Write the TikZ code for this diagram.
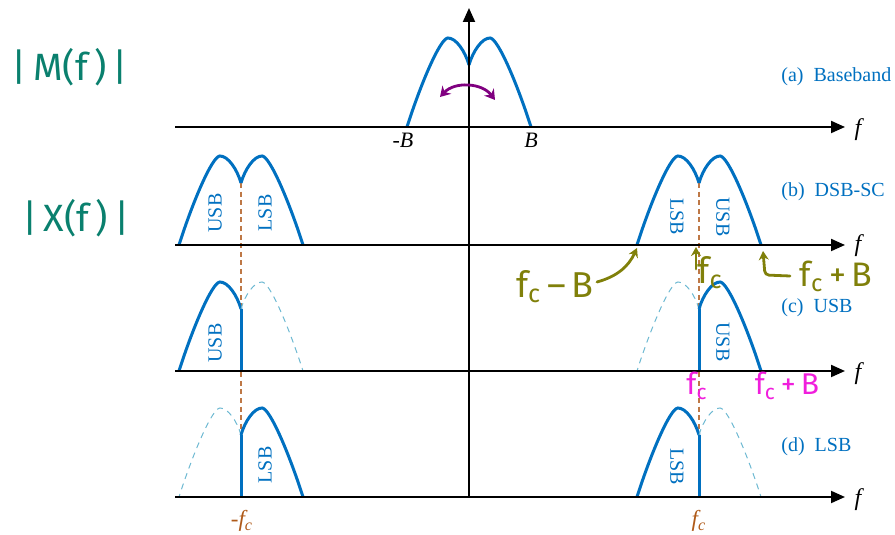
\documentclass[tikz,border=0pt]{standalone}
\usepackage{fontspec}
\setmainfont{Liberation Serif}
\newfontfamily\handfont{Fira Sans}
\usepackage{tikz}
\usetikzlibrary{arrows.meta}
\definecolor{sigblue}{RGB}{0,112,192}
\definecolor{ghostblue}{RGB}{110,185,210}
\definecolor{guidebrown}{RGB}{190,120,70}
\definecolor{fcbrown}{RGB}{175,90,25}
\definecolor{penteal}{RGB}{10,128,110}
\definecolor{penolive}{RGB}{128,128,10}
\definecolor{penpink}{RGB}{240,30,220}
\definecolor{penpurple}{RGB}{128,0,128}

\begin{document}
\begin{tikzpicture}[
			x=0.5pt, y=0.5pt,
			every node/.style={inner sep=0pt},
			axis/.style={line width=1pt, -{Triangle[length=7pt,width=6pt]}},
			band/.style={draw=sigblue, line width=1.5pt},
			ghost/.style={draw=ghostblue, line width=0.5pt, dash pattern=on 3pt off 2.5pt},
			guide/.style={draw=guidebrown, line width=0.8pt, dash pattern=on 2.5pt off 1.8pt},
			pics/hump/.style={code={
						\draw[#1] (0,62) .. controls (4,76) and (13,89) .. (21,89)
						.. controls (29,89) and (49,41) .. (62,0);
					}},
			sidelabel/.style={text=sigblue, font=\fontsize{10}{11}\selectfont},
			caption/.style={text=sigblue, anchor=west, font=\fontsize{10}{12}\selectfont},
			flabel/.style={font=\itshape\fontsize{12}{14}\selectfont},
			pen/.style={font=\handfont\fontsize{#1}{#1}\selectfont},
			penline/.style={line width=1.4pt, line cap=round, -{Stealth[length=4.5pt,width=5pt]}},
		]
		\useasboundingbox (0,0) rectangle (895,535);

		% axes
		\coordinate (ya) at (469,38);
		\coordinate (yb) at (469,527);
		\coordinate (a0) at (175,408);
		\coordinate (a1) at (845,408);
		\coordinate (b0) at (175,290);
		\coordinate (b1) at (845,290);
		\coordinate (c0) at (175,164);
		\coordinate (c1) at (845,164);
		\coordinate (d0) at (175,38);
		\coordinate (d1) at (845,38);

		% brown guides through the carrier
		\coordinate (gl0) at (241,352);
		\coordinate (gl1) at (241,100);
		\coordinate (gr0) at (699,352);
		\coordinate (gr1) at (699,100);
		\draw[guide] (gl0) -- (gl1);
		\draw[guide] (gr0) -- (gr1);

		% (a) baseband
		\pic at (469,408) {hump=band};
		\pic[xscale=-1] at (469,408) {hump=band};

		% (b) DSB-SC
		\pic at (241,290) {hump=band};
		\pic[xscale=-1] at (241,290) {hump=band};
		\pic at (699,290) {hump=band};
		\pic[xscale=-1] at (699,290) {hump=band};

		% (c) USB
		\pic[xscale=-1] at (241,164) {hump=band};
		\pic at (241,164) {hump=ghost};
		\pic[xscale=-1] at (699,164) {hump=ghost};
		\pic at (699,164) {hump=band};
		\coordinate (cl) at (241,164);
		\coordinate (clt) at (241,226);
		\coordinate (cr) at (699,164);
		\coordinate (crt) at (699,226);
		\draw[band] (cl) -- (clt);
		\draw[band] (cr) -- (crt);

		% (d) LSB
		\pic[xscale=-1] at (241,38) {hump=ghost};
		\pic at (241,38) {hump=band};
		\pic[xscale=-1] at (699,38) {hump=band};
		\pic at (699,38) {hump=ghost};
		\coordinate (dl) at (241,38);
		\coordinate (dlt) at (241,100);
		\coordinate (dr) at (699,38);
		\coordinate (drt) at (699,100);
		\draw[band] (dl) -- (dlt);
		\draw[band] (dr) -- (drt);

		\draw[axis] (ya) -- (yb);
		\draw[axis] (a0) -- (a1);
		\draw[axis] (b0) -- (b1);
		\draw[axis] (c0) -- (c1);
		\draw[axis] (d0) -- (d1);

		% axis labels
		\node[flabel] (fa) at (858,405) {f};
		\node[flabel] (fb) at (858,289) {f};
		\node[flabel] (fc) at (858,161) {f};
		\node[flabel] (fd) at (858,35) {f};
		\node[flabel, font=\itshape\fontsize{11}{12}\selectfont] (mB) at (403,395) {-B};
		\node[flabel, font=\itshape\fontsize{11}{12}\selectfont] (pB) at (531,395) {B};
		\node[text=fcbrown, font=\itshape\fontsize{11.5}{12}\selectfont] (mfc) at (242,14) {-f\textsubscript{c}};
		\node[text=fcbrown, font=\itshape\fontsize{11.5}{12}\selectfont] (pfc) at (699,14) {f\textsubscript{c}};

		% captions
		\node[caption] (capa) at (781,458) {(a)\enspace Baseband};
		\node[caption] (capb) at (781,343) {(b)\enspace DSB-SC};
		\node[caption] (capc) at (781,227) {(c)\enspace USB};
		\node[caption] (capd) at (781,88) {(d)\enspace LSB};

		% sideband names
		\node[sidelabel, rotate=90] (bl1) at (215,322) {USB};
		\node[sidelabel, rotate=90] (bl2) at (265,322) {LSB};
		\node[sidelabel, rotate=-90] (br1) at (677,318) {LSB};
		\node[sidelabel, rotate=-90] (br2) at (723,318) {USB};
		\node[sidelabel, rotate=90] (cl1) at (215,192) {USB};
		\node[sidelabel, rotate=-90] (cr1) at (723,193) {USB};
		\node[sidelabel, rotate=90] (dl1) at (265,70) {LSB};
		\node[sidelabel, rotate=-90] (dr1) at (677,68) {LSB};

		% pen notes
		\node[pen=19, text=penteal] (magM) at (70,468) {|\,M(f\,)\,|};
		\node[pen=19, text=penteal] (magX) at (76,317) {|\,X(f\,)\,|};

		\coordinate (sl) at (440,438);
		\coordinate (sr) at (495,435);
		\draw[penpurple, line width=1.4pt, {Stealth[length=5pt,width=6pt]}-{Stealth[length=5pt,width=6pt]}]
		(sl) to[bend left=50] (sr);

		\node[pen=18, text=penolive] (lo) at (555,248) {f\textsubscript{c}\,–\,B};
		\coordinate (lo0) at (597,253);
		\coordinate (lo1) at (637,287);
		\draw[penline, penolive] (lo0) to[bend right=25] (lo1);

		\node[pen=18, text=penolive] (mid) at (710,262) {f\textsubscript{c}};
		\coordinate (mid0) at (696,266);
		\coordinate (mid1) at (696,288);
		\draw[penline, penolive] (mid0) -- (mid1);

		\node[pen=17, text=penolive] (hi) at (836,259) {f\textsubscript{c}\,+\,B};
		\coordinate (hi0) at (790,259);
		\coordinate (hi1) at (763,284);
		\draw[penline, penolive, rounded corners=2pt] (hi0) -- (765,260) -- (hi1);

		\node[pen=15, text=penpink] (pk1) at (697,149) {f\textsubscript{c}};
		\node[pen=15, text=penpink] (pk2) at (787,149) {f\textsubscript{c}\,+\,B};
	\end{tikzpicture}
\end{document}
